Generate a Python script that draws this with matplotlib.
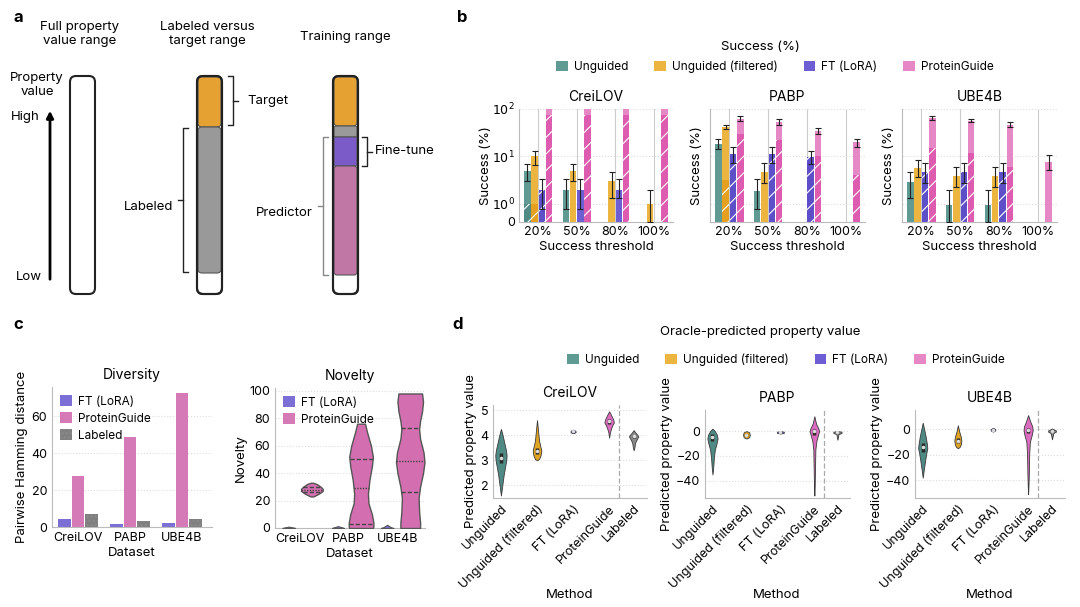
import matplotlib
matplotlib.use("Agg")
import matplotlib.pyplot as plt
from matplotlib.patches import FancyBboxPatch, Patch
import numpy as np

plt.rcParams['font.family'] = ['Inter', 'DejaVu Sans']
plt.rcParams['font.size'] = 8.5
plt.rcParams['hatch.linewidth'] = 0.8
plt.rcParams['hatch.color'] = 'white'

W, H = 1080, 607
fig = plt.figure(figsize=(W / 100, H / 100), dpi=100)


def px_axes(l, t, r, b):
    return fig.add_axes([l / W, 1 - b / H, (r - l) / W, (b - t) / H])


def ftext(x, y, s, **kw):
    fig.text(x / W, 1 - y / H, s, **kw)


# ---------------- data ----------------
methods = ['Unguided', 'Unguided (filtered)', 'FT (LoRA)', 'ProteinGuide']
thresholds = ['20%', '50%', '80%', '100%']

# success (%) per method (rows) x threshold (cols)
creilov_val = [[5, 2, 0, 0], [10, 5, 3, 1], [2, 2, 2, 0], [100, 100, 100, 100]]
creilov_lo = [[3, 0.7, 0, 0], [6.5, 3, 1.3, 0], [0.7, 0.7, 1.3, 0], [100, 100, 100, 100]]
creilov_hi = [[7, 3.4, 0, 0], [13, 7, 4.6, 2], [3.4, 3.4, 3.4, 0], [100, 100, 100, 100]]
creilov_hatch = [[1, 0, 0, 0], [1, 0, 0, 0], [2, 0, 0, 0], [75, 75, 75, 75]]

pabp_val = [[18, 1.9, 0, 0], [42, 4.8, 0, 0], [11, 11, 9.7, 0], [61, 53, 34, 20]]
pabp_lo = [[14, 0.7, 0, 0], [38, 2.7, 0, 0], [7.2, 7.2, 7, 0], [56, 47, 29, 16]]
pabp_hi = [[23, 3.4, 0, 0], [47, 7.2, 0, 0], [15.8, 15.8, 12.8, 0], [70, 61, 40, 23]]
pabp_hatch = [[0, 0, 0, 0], [3.2, 0, 0, 0], [11, 11, 9.7, 0], [30, 22, 10, 4]]

ube4b_val = [[2.9, 0.95, 0.95, 0], [5.6, 3.9, 3.9, 0], [4.8, 4.8, 4.8, 0], [64, 56, 46, 7.8]]
ube4b_lo = [[1.3, 0, 0, 0], [3.6, 2.3, 2.3, 0], [2.8, 2.8, 2.8, 0], [58, 52, 42, 5.2]]
ube4b_hi = [[4.8, 2, 2, 0], [8.5, 5.9, 5.9, 0], [7.2, 7.2, 7.2, 0], [72, 61, 54, 10.7]]
ube4b_hatch = [[0, 0, 0, 0], [0, 0, 0, 0], [4.8, 4.8, 4.8, 0], [15, 12, 5.9, 0]]

datasets = ['CreiLOV', 'PABP', 'UBE4B']

# diversity (pairwise Hamming distance)
div_ft = [4.6, 1.8, 2.2]
div_pg = [27.8, 49.0, 72.6]
div_lab = [7.3, 3.3, 4.2]

# novelty violin profiles: (values, half-widths)
nov_ft_y = [[0, 0.3, 0.7, 1.0], [0, 0.4, 0.9, 1.4], [0, 0.5, 1.4, 2.3]]
nov_ft_w = [[0.13, 0.1, 0.04, 0], [0.12, 0.09, 0.04, 0], [0.13, 0.08, 0.04, 0]]
nov_pg_y = [[23, 25, 27, 28.5, 30, 32, 33],
            [0, 1, 4, 10, 18, 25, 35, 45, 52, 60, 70, 76],
            [0, 4, 12, 22, 30, 40, 48, 55, 65, 72, 78, 85, 92, 98]]
nov_pg_w = [[0.03, 0.14, 0.22, 0.22, 0.18, 0.1, 0.02],
            [0.24, 0.25, 0.25, 0.22, 0.15, 0.14, 0.17, 0.22, 0.24, 0.2, 0.12, 0.08],
            [0.2, 0.2, 0.18, 0.17, 0.2, 0.26, 0.29, 0.27, 0.2, 0.18, 0.2, 0.24, 0.26, 0.24]]
nov_pg_quart = [[26, 28, 30], [3, 29, 50], [26, 49, 73]]

# oracle-predicted property value violins (Unguided, filtered, FT, PG, Labeled)
d_methods = ['Unguided', 'Unguided (filtered)', 'FT (LoRA)', 'ProteinGuide', 'Labeled']
creilov_vy = [[1.6, 2.0, 2.4, 2.7, 3.0, 3.2, 3.4, 3.7, 4.0, 4.25],
              [3.0, 3.05, 3.2, 3.4, 3.55, 3.8, 4.2, 4.6],
              [4.08, 4.12, 4.16, 4.2, 4.22],
              [3.9, 4.1, 4.25, 4.4, 4.5, 4.6, 4.8, 4.95],
              [3.4, 3.5, 3.7, 3.85, 3.95, 4.0, 4.1, 4.2]]
creilov_vw = [[0, 0.037, 0.074, 0.11, 0.148, 0.157, 0.14, 0.093, 0.046, 0],
              [0, 0.055, 0.1, 0.12, 0.093, 0.055, 0.028, 0],
              [0.02, 0.07, 0.07, 0.04, 0],
              [0, 0.02, 0.05, 0.09, 0.13, 0.12, 0.055, 0],
              [0, 0.02, 0.04, 0.09, 0.13, 0.11, 0.05, 0]]
creilov_q = [[2.9, 3.1, 3.3], [3.25, 3.38, 3.5], [4.13, 4.15, 4.17], [4.45, 4.55, 4.65], [3.9, 3.95, 4.0]]

pabp_vy = [[-35, -30, -22, -15, -10, -6, -3, 0, 2],
           [-6, -5, -3, -1, 0],
           [-2, -1.5, -0.5, 0],
           [-52, -45, -30, -15, -8, -3, 0, 2, 6, 12],
           [-7, -5, -2.5, -1.5, -0.5, 0]]
pabp_vw = [[0, 0.02, 0.04, 0.07, 0.12, 0.15, 0.13, 0.07, 0],
           [0, 0.08, 0.1, 0.08, 0],
           [0, 0.1, 0.1, 0],
           [0, 0.01, 0.02, 0.03, 0.06, 0.11, 0.14, 0.12, 0.05, 0],
           [0, 0.015, 0.03, 0.12, 0.12, 0]]
pabp_q = [[-8, -5, -2], [-4, -3, -2], [-1.2, -1, -0.8], [-3, 0, 2], [-1.5, -1, -0.5]]

ube4b_vy = [[-38, -32, -25, -19, -15, -12, -6, 0, 5],
            [-15, -14, -12, -9, -6, -2, 3],
            [-2, -1, 0, 1],
            [-51, -45, -35, -20, -10, -5, -1, 2, 6, 11],
            [-8, -6, -3, -2, -1, 0.5]]
ube4b_vw = [[0, 0.03, 0.066, 0.1, 0.13, 0.12, 0.085, 0.04, 0],
            [0, 0.05, 0.085, 0.1, 0.085, 0.04, 0],
            [0, 0.066, 0.066, 0],
            [0, 0.01, 0.02, 0.03, 0.05, 0.1, 0.13, 0.12, 0.06, 0],
            [0, 0.015, 0.04, 0.11, 0.11, 0]]
ube4b_q = [[-18, -14, -11], [-11, -9, -7], [-0.8, -0.5, -0.2], [-3, -1, 1], [-2, -1.5, -1]]

# ---------------- colours ----------------
b_light = ['#5f9a93', '#ecb540', '#6d5fd3', '#e687c6']
b_dark = ['#4f8a84', '#e6a020', '#5d4fc8', '#dd5cb0']
d_cols = ['#4f8a84', '#e0a424', '#7161d6', '#dc6cbf', '#8a8a8a']
grid_c = '#dddddd'
spine_c = '#bbbbbb'

# ================= panel a =================
axa = px_axes(0, 0, 440, 300)
axa.set_xlim(0, 440)
axa.set_ylim(300, 0)
axa.axis('off')


def seg(x0, y0, x1, y1, fc, ec='#555555', lw=0.8, r=4):
    axa.add_patch(FancyBboxPatch((x0, y0), x1 - x0, y1 - y0,
                                 boxstyle=f"round,pad=0,rounding_size={r}",
                                 fc=fc, ec=ec, lw=lw))


# bar 1
seg(70, 76, 95, 294, 'white', ec='#222222', lw=1.5, r=6)
# bar 2
seg(197, 76, 222, 294, 'white', ec='#222222', lw=1.5, r=6)
seg(198, 77, 221, 127, '#e5a232')
seg(198, 127, 221, 273, '#999999')
seg(197, 76, 222, 294, 'none', ec='#222222', lw=1.5, r=6)
# bar 3
seg(333, 76, 358, 294, 'white', ec='#222222', lw=1.5, r=6)
seg(334, 77, 357, 126, '#e5a232')
seg(334, 126, 357, 137, '#9a9a9a', r=2)
seg(334, 137, 357, 166, '#7a5bc8', r=1)
seg(334, 166, 357, 275, '#c077a5', r=3)
seg(333, 76, 358, 294, 'none', ec='#222222', lw=1.5, r=6)


def bracket(x, y0, y1, inward, outward, color='#222222', lw=1.0):
    axa.plot([x + inward, x, x, x + inward], [y0, y0, y1, y1], color=color, lw=lw)
    ym = (y0 + y1) / 2
    axa.plot([x, x + outward], [ym, ym], color=color, lw=lw)


bracket(233, 76, 125, -5, 5)
bracket(183, 128, 272, 5, -5)
bracket(367, 137, 166, -5, 5)
bracket(323, 137, 275, 5, -5, color='#888888')

axa.text(247, 101, 'Target', va='center', ha='left', fontsize=9.5)
axa.text(173, 207, 'Labeled', va='center', ha='right', fontsize=9.5)
axa.text(375, 151, 'Fine-tune', va='center', ha='left', fontsize=9.5)
axa.text(313, 213, 'Predictor', va='center', ha='right', fontsize=9.5)
axa.text(80, 34, 'Full property\nvalue range', ha='center', va='center', fontsize=9.5, linespacing=1.3)
axa.text(207, 34, 'Labeled versus\ntarget range', ha='center', va='center', fontsize=9.5, linespacing=1.3)
axa.text(345, 37, 'Training range', ha='center', va='center', fontsize=9.5)
axa.text(37, 85, 'Property\nvalue', ha='center', va='center', fontsize=9.5, linespacing=1.2)
axa.text(25, 117, 'High', ha='center', va='center', fontsize=9.5)
axa.text(29, 277, 'Low', ha='center', va='center', fontsize=9.5)
axa.annotate('', xy=(50, 108), xytext=(50, 282),
             arrowprops=dict(arrowstyle='-|>', lw=2, color='black', mutation_scale=10))
axa.text(13, 18, 'a', fontsize=12, fontweight='bold', va='center')

# ================= panel b =================
ftext(457, 18, 'b', fontsize=12, fontweight='bold', va='center')
ftext(760, 47, 'Success (%)', ha='center', va='center', fontsize=9.5)
handles = [Patch(facecolor=c, edgecolor='none') for c in b_light]
fig.legend(handles, methods, loc='center', bbox_to_anchor=(775 / W, 1 - 67 / H), ncol=4,
           frameon=False, handlelength=1.0, handleheight=1.0, columnspacing=2.2,
           handletextpad=0.5, fontsize=8.5)

b_rects = [(519, 109, 673, 222), (710, 109, 865, 222), (902, 109, 1057, 222)]
b_vals = [creilov_val, pabp_val, ube4b_val]
b_los = [creilov_lo, pabp_lo, ube4b_lo]
b_his = [creilov_hi, pabp_hi, ube4b_hi]
b_hatches = [creilov_hatch, pabp_hatch, ube4b_hatch]

for k, (rect, name) in enumerate(zip(b_rects, datasets)):
    ax = px_axes(*rect)
    ax.set_yscale('symlog', linthresh=1, linscale=0.345)
    xg = np.arange(len(thresholds))
    for m in range(4):
        xs = xg + (m - 1.5) * 0.19
        for j in range(4):
            v = b_vals[k][m][j]
            hv = min(b_hatches[k][m][j], v)
            if hv > 0:
                ax.bar(xs[j], hv, width=0.17, color=b_dark[m], hatch='//',
                       edgecolor='white', linewidth=0, zorder=2)
            if v - hv > 0:
                ax.bar(xs[j], v - hv, bottom=hv, width=0.17, color=b_light[m],
                       edgecolor='white', linewidth=0, zorder=2)
            lo, hi = b_los[k][m][j], b_his[k][m][j]
            if hi > lo:
                ax.errorbar(xs[j], v, yerr=[[v - lo], [hi - v]], fmt='none',
                            ecolor='#222222', elinewidth=0.8, capsize=2, capthick=0.8, zorder=3)
    ax.set_xlim(-0.5, 3.5)
    ax.set_ylim(0, 100)
    for xv in xg:
        ax.axvline(xv, color='#cccccc', lw=0.8, zorder=1)
    for yv in [1, 10, 100]:
        ax.axhline(yv, color=grid_c, lw=0.8, ls=':', zorder=1)
    ax.set_xticks(xg)
    ax.set_xticklabels(thresholds, fontsize=9)
    ax.set_yticks([0, 1, 10, 100])
    ax.minorticks_off()
    if k == 0:
        ax.set_yticklabels(['0', '$10^0$', '$10^1$', '$10^2$'], fontsize=9)
    else:
        ax.set_yticklabels([])
    ax.tick_params(length=0, pad=3)
    ax.set_xlabel('Success threshold', fontsize=9.5, labelpad=2)
    ax.set_ylabel('Success (%)', fontsize=9.5, labelpad=2 if k else 0)
    ax.set_title(name, fontsize=10, pad=6)
    for s in ['top', 'right']:
        ax.spines[s].set_visible(False)
    for s in ['left', 'bottom']:
        ax.spines[s].set_color(spine_c)
        ax.spines[s].set_linewidth(0.8)

# ================= panel c =================
ftext(13, 325, 'c', fontsize=12, fontweight='bold', va='center')

axc = px_axes(52, 387, 212, 527)
xc = np.arange(3)
axc.bar(xc - 0.26, div_ft, width=0.24, color='#7b6fd6', label='FT (LoRA)', zorder=2)
axc.bar(xc, div_pg, width=0.24, color='#d67ab7', label='ProteinGuide', zorder=2)
axc.bar(xc + 0.26, div_lab, width=0.24, color='#808080', hatch='....', edgecolor='#8c8c8c',
        linewidth=0, label='Labeled', zorder=2)
axc.set_xlim(-0.5, 2.58)
axc.set_ylim(0, 76)
axc.set_yticks([0, 20, 40, 60])
axc.set_xticks(xc)
axc.set_xticklabels(datasets, fontsize=9)
axc.tick_params(labelsize=9, length=0)
axc.yaxis.grid(True, color=grid_c, lw=0.8, ls=':')
axc.set_axisbelow(True)
axc.set_title('Diversity', fontsize=10, pad=6)
axc.set_xlabel('Dataset', fontsize=9.5, labelpad=2)
axc.set_ylabel('Pairwise Hamming distance', fontsize=9.5, labelpad=2)
axc.legend(loc='upper left', frameon=False, handlelength=1.0, handleheight=1.0,
           handletextpad=0.5, fontsize=8.5, borderaxespad=0.3, labelspacing=0.4)
for s in ['top', 'right']:
    axc.spines[s].set_visible(False)
for s in ['left', 'bottom']:
    axc.spines[s].set_color(spine_c)

axn = px_axes(275, 388, 425, 528)
for i in range(3):
    xf = i - 0.22
    yy = np.asarray(nov_ft_y[i]); ww = np.asarray(nov_ft_w[i])
    axn.fill_betweenx(yy, xf - ww, xf + ww, facecolor='#7b6fd6', edgecolor='#555555', lw=0.8, zorder=3)
    xp = i + 0.25
    yy = np.asarray(nov_pg_y[i]); ww = np.asarray(nov_pg_w[i])
    axn.fill_betweenx(yy, xp - ww, xp + ww, facecolor='#d36fb0', edgecolor='#555555', lw=1.0, zorder=3)
    for qi, q in enumerate(nov_pg_quart[i]):
        hw = np.interp(q, yy, ww)
        axn.plot([xp - hw, xp + hw], [q, q], color='#444444', lw=1.0,
                 ls=(0, (3, 1.5)) if qi != 1 else (0, (1, 1)), zorder=4)
axn.set_xlim(-0.5, 2.55)
axn.set_ylim(0, 102)
axn.set_yticks([0, 20, 40, 60, 80, 100])
axn.set_xticks(xc)
axn.set_xticklabels(datasets, fontsize=9)
axn.tick_params(labelsize=9, length=0)
axn.yaxis.grid(True, color=grid_c, lw=0.8, ls=':')
axn.set_axisbelow(True)
axn.set_title('Novelty', fontsize=10, pad=6)
axn.set_xlabel('Dataset', fontsize=9.5, labelpad=2)
axn.set_ylabel('Novelty', fontsize=9.5, labelpad=2)
nh = [Patch(facecolor='#7b6fd6'), Patch(facecolor='#d67ab7')]
axn.legend(nh, ['FT (LoRA)', 'ProteinGuide'], loc='upper left', frameon=False, handlelength=1.0,
           handleheight=1.0, handletextpad=0.5, fontsize=8.5, borderaxespad=0.3, labelspacing=0.4)
for s in ['top', 'right']:
    axn.spines[s].set_visible(False)
for s in ['left', 'bottom']:
    axn.spines[s].set_color(spine_c)

# ================= panel d =================
ftext(452, 325, 'd', fontsize=12, fontweight='bold', va='center')
ftext(760, 332, 'Oracle-predicted property value', ha='center', va='center', fontsize=9.5)
dh = [Patch(facecolor=c, edgecolor='none') for c in b_light]
fig.legend(dh, methods, loc='center', bbox_to_anchor=(786 / W, 1 - 360 / H), ncol=4,
           frameon=False, handlelength=1.0, handleheight=1.0, columnspacing=2.2,
           handletextpad=0.5, fontsize=8.5)

d_rects = [(493, 405, 647, 498), (705, 410, 850, 498), (915, 410, 1065, 498)]
d_vy = [creilov_vy, pabp_vy, ube4b_vy]
d_vw = [creilov_vw, pabp_vw, ube4b_vw]
d_q = [creilov_q, pabp_q, ube4b_q]
d_ylims = [(1.5, 5.2), (-54, 17), (-54, 15)]
d_yticks = [[2, 3, 4, 5], [-40, -20, 0], [-40, -20, 0]]
d_pos = [0, 1, 2, 3, 3.68]
d_method_x = [570, 777, 990]

for k, rect in enumerate(d_rects):
    ax = px_axes(*rect)
    for m in range(5):
        yy = np.asarray(d_vy[k][m]); ww = np.asarray(d_vw[k][m])
        x = d_pos[m]
        ax.fill_betweenx(yy, x - ww, x + ww, facecolor=d_cols[m], edgecolor='#3a3a3a',
                         lw=0.6, zorder=3)
        q1, med, q3 = d_q[k][m]
        ax.plot([x, x], [q1, q3], color='#2a2a2a', lw=2.5, solid_capstyle='butt', zorder=4)
        ax.plot([x], [med], marker='o', ms=1.5, color='#dddddd', zorder=5)
    ax.axvline(3.27, color='#aaaaaa', lw=0.9, ls=(0, (4, 2)), zorder=2)
    ax.set_xlim(-0.22, 4.05)
    ax.set_ylim(*d_ylims[k])
    ax.set_yticks(d_yticks[k])
    ax.set_xticks(d_pos)
    ax.set_xticklabels(d_methods, rotation=45, ha='right', rotation_mode='anchor', fontsize=8.5)
    ax.tick_params(labelsize=9, length=0)
    ax.yaxis.grid(True, color=grid_c, lw=0.8, ls=':')
    ax.set_axisbelow(True)
    ax.set_title(datasets[k], fontsize=10, pad=6)
    ax.set_ylabel('Predicted property value', fontsize=9.5, labelpad=2)
    for s in ['top', 'right']:
        ax.spines[s].set_visible(False)
    for s in ['left', 'bottom']:
        ax.spines[s].set_color(spine_c)
    ftext(d_method_x[k], 595, 'Method', ha='center', va='center', fontsize=9.5)

fig.savefig('out.png', dpi=100)
